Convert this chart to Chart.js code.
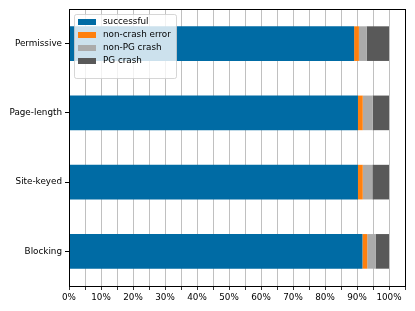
<!DOCTYPE html>
<html><head><meta charset="utf-8">
<script src="https://cdn.jsdelivr.net/npm/chart.js@4/dist/chart.umd.min.js"></script>
<style>html,body{margin:0;padding:0;background:#fff}#w{width:415px;height:311px}</style>
</head><body><div id="w"><canvas id="c" width="415" height="311"></canvas></div>
<script>
const categories = ["Permissive", "Page-length", "Site-keyed", "Blocking"];
const seriesNames = ["successful", "non-crash error", "non-PG crash", "PG crash"];
const successful = [89.1, 90.3, 90.3, 91.7];
const nonCrashError = [1.5, 1.5, 1.5, 1.5];
const nonPGCrash = [2.4, 3.1, 3.0, 2.6];
const pgCrash = [7.0, 5.1, 5.2, 4.2];
const colors = ["#006BA4", "#FF800E", "#ABABAB", "#595959"];
const xTicksLabelled = [0,10,20,30,40,50,60,70,80,90,100];

const FONT = "'DejaVu Sans', sans-serif";
const FS = 8.8;
const seriesValues = [successful, nonCrashError, nonPGCrash, pgCrash];

const framePlugin = {
  id: 'frame',
  afterDatasetsDraw(chart) {
    const {ctx, chartArea: a} = chart;
    ctx.save();
    ctx.strokeStyle = '#000';
    ctx.lineWidth = 1;
    ctx.strokeRect(Math.round(a.left)+0.5, Math.round(a.top)+0.5, Math.round(a.right-a.left), Math.round(a.bottom-a.top));
    // legend
    const x0 = a.left + 5, y0 = a.top + 5, w = 102, h = 64;
    ctx.fillStyle = 'rgba(255,255,255,0.8)';
    ctx.strokeStyle = 'rgba(204,204,204,0.8)';
    ctx.beginPath();
    if (ctx.roundRect) ctx.roundRect(x0+0.5, y0+0.5, w, h, 2); else ctx.rect(x0+0.5, y0+0.5, w, h);
    ctx.fill(); ctx.stroke();
    ctx.font = FS + "px " + FONT;
    ctx.textBaseline = 'middle';
    chart.data.datasets.forEach((ds, i) => {
      const yc = y0 + 8 + i * 13;
      ctx.fillStyle = ds.backgroundColor;
      ctx.fillRect(x0 + 4, yc - 3, 18, 6);
      ctx.fillStyle = '#000';
      ctx.fillText(ds.label, x0 + 29, yc);
    });
    ctx.restore();
  }
};

new Chart(document.getElementById('c'), {
  type: 'bar',
  data: {
    labels: categories,
    datasets: seriesNames.map((n, i) => ({
      label: n, data: seriesValues[i], backgroundColor: colors[i], borderWidth: 0,
      barPercentage: 0.5, categoryPercentage: 1.0
    }))
  },
  options: {
    indexAxis: 'y', responsive: false, animation: false,
    layout: {padding: {top: 9, right: 10, left: 0, bottom: 0}},
    plugins: {legend: {display: false}, tooltip: {enabled: false}},
    scales: {
      x: {
        stacked: true, min: 0, max: 105,
        afterFit(s) { s.height = 25; },
        border: {color: '#000', width: 1},
        grid: {color: '#b0b0b0', lineWidth: 0.8, tickColor: '#000', tickLength: 4,
               drawOnChartArea: true},
        ticks: {stepSize: 5, autoSkip: false, maxRotation: 0, color: '#000', padding: 2,
                font: {family: FONT, size: FS},
                callback: v => xTicksLabelled.includes(v) ? v + '%' : ''}
      },
      y: {
        stacked: true,
        afterFit(s) { s.width = 69; },
        border: {color: '#000', width: 1},
        grid: {drawOnChartArea: false, offset: false, tickColor: '#000', tickLength: 4},
        ticks: {color: '#000', padding: 3, font: {family: FONT, size: FS}}
      }
    }
  },
  plugins: [framePlugin]
});
</script></body></html>
